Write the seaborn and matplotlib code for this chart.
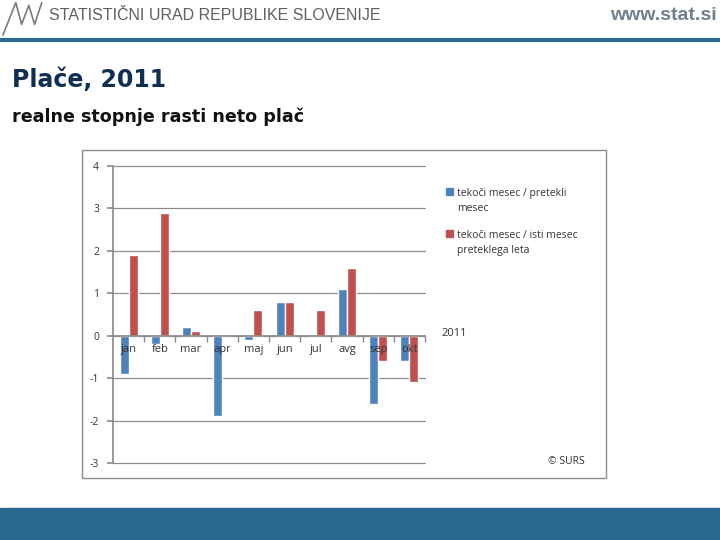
import pandas as pd
import matplotlib
matplotlib.use('Agg')
import matplotlib.pyplot as plt
from matplotlib.patches import Rectangle
import seaborn as sns

months = ['jan', 'feb', 'mar', 'apr', 'maj', 'jun', 'jul', 'avg', 'sep', 'okt']
prev_month = [-0.9, -0.2, 0.2, -1.9, -0.1, 0.8, 0.0, 1.1, -1.6, -0.6]
prev_year = [1.9, 2.9, 0.1, 0.0, 0.6, 0.8, 0.6, 1.6, -0.6, -1.1]
series_names = ['tekoči mesec / pretekli\nmesec', 'tekoči mesec / isti mesec\npreteklega leta']
y_ticks = [-3, -2, -1, 0, 1, 2, 3, 4]

BLUE = '#4F81BD'
RED = '#C0504D'
BAND = '#2B6892'


def main():
    df = pd.DataFrame({
        'mesec': months * 2,
        'vrednost': prev_month + prev_year,
        'serija': [series_names[0]] * len(months) + [series_names[1]] * len(months),
    })

    sns.set_theme(style='white')
    plt.rcParams['font.family'] = ['DejaVu Sans']

    fig = plt.figure(figsize=(7.2, 5.4), dpi=100)

    # header
    fig.text(0.068, 0.972, 'STATISTIČNI URAD REPUBLIKE SLOVENIJE', family='Liberation Sans',
             fontsize=11.5, color='#5f5f5f', va='center')
    fig.text(0.995, 0.972, 'www.stat.si', family='Liberation Sans', fontsize=14,
             fontweight='bold', color='#6f7f8f', ha='right', va='center')
    # simple logo strokes
    fig.add_artist(plt.Line2D([0.004, 0.022, 0.030, 0.040, 0.048, 0.058],
                              [0.935, 0.995, 0.955, 0.99, 0.955, 0.995],
                              color='#7a7a7a', lw=1.2))
    fig.add_artist(plt.Line2D([0, 1], [0.926, 0.926], color=BAND, lw=3))

    fig.text(0.017, 0.853, 'Plače, 2011', fontsize=17, fontweight='bold', color='#102f52', va='center')
    fig.text(0.017, 0.783, 'realne stopnje rasti neto plač', fontsize=12.6, fontweight='bold',
             color='#111111', va='center')

    # bottom band
    fig.add_artist(Rectangle((0, 0), 1, 0.06, transform=fig.transFigure, color=BAND, zorder=0))

    # chart frame
    fig.add_artist(Rectangle((82 / 720, 1 - 478 / 540), 524 / 720, 328 / 540,
                             transform=fig.transFigure, fill=False, ec='#8c8c8c', lw=1))

    ax = fig.add_axes([113 / 720, 1 - 463 / 540, 312 / 720, 297 / 540])
    sns.barplot(data=df, x='mesec', y='vrednost', hue='serija', palette=[BLUE, RED],
                width=0.58, ax=ax, legend=False, saturation=1)

    ax.set_ylim(-3, 4)
    ax.set_xlim(-0.5, len(months) - 0.5)
    ax.set_yticks(y_ticks)
    ax.set_yticklabels([str(t) for t in y_ticks], family='Open Sans', fontsize=7.5, color='#333333')
    ax.yaxis.grid(True, color='#8c8c8c', lw=0.9)
    for gl in ax.get_ygridlines():
        gl.set_clip_on(False)
    ax.set_axisbelow(True)
    ax.set_xlabel('')
    ax.set_ylabel('')

    for side in ['top', 'right']:
        ax.spines[side].set_visible(False)
    ax.spines['left'].set_color('#8c8c8c')
    ax.spines['bottom'].set_color('#8c8c8c')
    ax.spines['bottom'].set_position(('data', 0))

    # category labels sit on the zero line, drawn in front of the bars
    ax.set_xticks(range(len(months)))
    ax.set_xticklabels([])
    ax.tick_params(axis='x', length=0)
    for i, m in enumerate(months):
        ax.annotate(m, xy=(i, 0), xytext=(0, -6), textcoords='offset points',
                    ha='center', va='top', family='Open Sans', fontsize=8,
                    color='#333333', zorder=5)
    ax.tick_params(axis='y', left=True, length=4, color='#8c8c8c', pad=6)
    ax.set_xticks([i + 0.5 for i in range(len(months))], minor=True)
    ax.tick_params(axis='x', which='minor', bottom=True, length=4, color='#8c8c8c')

    # legend and notes on the right side of the frame
    for i, (name, col) in enumerate(zip(series_names, [BLUE, RED])):
        y = 1 - (192 + 42 * i) / 540
        fig.add_artist(Rectangle((446 / 720, y - 0.006), 7 / 720, 7 / 540,
                                 transform=fig.transFigure, color=col))
        fig.text(457 / 720, y + 0.008, name, family='Open Sans', fontsize=7.5,
                 color='#333333', va='top', linespacing=1.5)
    fig.text(441 / 720, 1 - 334 / 540, '2011', family='Open Sans', fontsize=8,
             color='#333333', va='center')
    fig.text(585 / 720, 1 - 462 / 540, '© SURS', family='Open Sans', fontsize=7.5,
             color='#333333', va='center', ha='right')

    fig.savefig('out.png', dpi=100)
    plt.close(fig)


if __name__ == '__main__':
    main()
